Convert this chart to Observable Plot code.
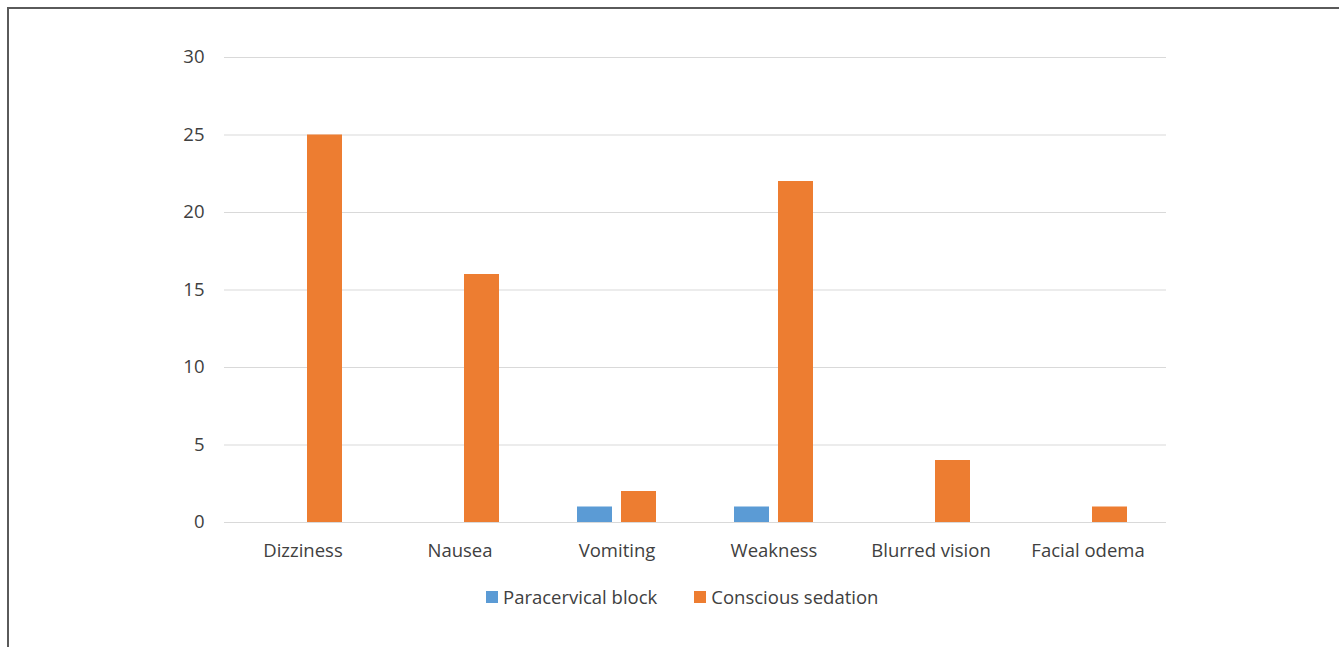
<!DOCTYPE html>
<html>
<head>
<meta charset="utf-8">
<script src="https://cdn.jsdelivr.net/npm/d3@7"></script>
<script src="https://cdn.jsdelivr.net/npm/@observablehq/plot@0.6"></script>
<style>
  html, body { margin: 0; padding: 0; background: #fff; overflow: hidden; width: 1339px; height: 647px; }
  #frame { position: absolute; left: 7px; top: 7px; width: 1340px; height: 700px; border-left: 2px solid #5a5a5a; border-top: 2px solid #5a5a5a; box-sizing: border-box; pointer-events: none; }
  #chart { position: absolute; left: 0; top: 0; }
  #legend { position: absolute; left: 486px; top: 584px; display: flex; align-items: center; font-family: "Open Sans", sans-serif; font-size: 18.5px; color: #404040; }
  .item { display: flex; align-items: center; margin-right: 37px; }
  .sw { width: 12px; height: 12px; margin-right: 5px; }
</style>
</head>
<body>
<div id="chart"></div>
<div id="legend"></div>
<div id="frame"></div>
<script>
const categories = ["Dizziness", "Nausea", "Vomiting", "Weakness", "Blurred vision", "Facial odema"];
const series = ["Paracervical block", "Conscious sedation"];
const paracervical = [0, 0, 1, 1, 0, 0];
const conscious = [25, 16, 2, 22, 4, 1];
const yTicks = [0, 5, 10, 15, 20, 25, 30];
const colors = ["#5b9bd5", "#ed7d31"];

const data = [];
categories.forEach((c, i) => {
  data.push({category: c, series: series[0], value: paracervical[i]});
  data.push({category: c, series: series[1], value: conscious[i]});
});

const chart = Plot.plot({
  width: 1339,
  height: 570,
  marginLeft: 223,
  marginRight: 172,
  marginTop: 57,
  marginBottom: 48,
  style: {fontFamily: "'Open Sans', sans-serif", fontSize: "18.5px", color: "#404040", background: "transparent"},
  fx: {domain: categories, padding: 0, label: null, tickSize: 0, tickPadding: 21, axis: "bottom"},
  x: {domain: series, axis: null, paddingInner: 0.2045, paddingOuter: 0.885},
  y: {domain: [0, 30], ticks: yTicks, label: null, tickSize: 0, tickPadding: 20},
  color: {domain: series, range: colors},
  marks: [
    Plot.ruleY(yTicks, {stroke: "#d9d9d9", strokeWidth: 1}),
    Plot.barY(data.filter(d => d.value > 0), {fx: "category", x: "series", y: "value", fill: "series"})
  ]
});
document.getElementById("chart").appendChild(chart);

const legend = document.getElementById("legend");
series.forEach((s, i) => {
  const item = document.createElement("div");
  item.className = "item";
  const sw = document.createElement("div");
  sw.className = "sw";
  sw.style.background = colors[i];
  const t = document.createElement("span");
  t.textContent = s;
  item.appendChild(sw);
  item.appendChild(t);
  legend.appendChild(item);
});
</script>
</body>
</html>
